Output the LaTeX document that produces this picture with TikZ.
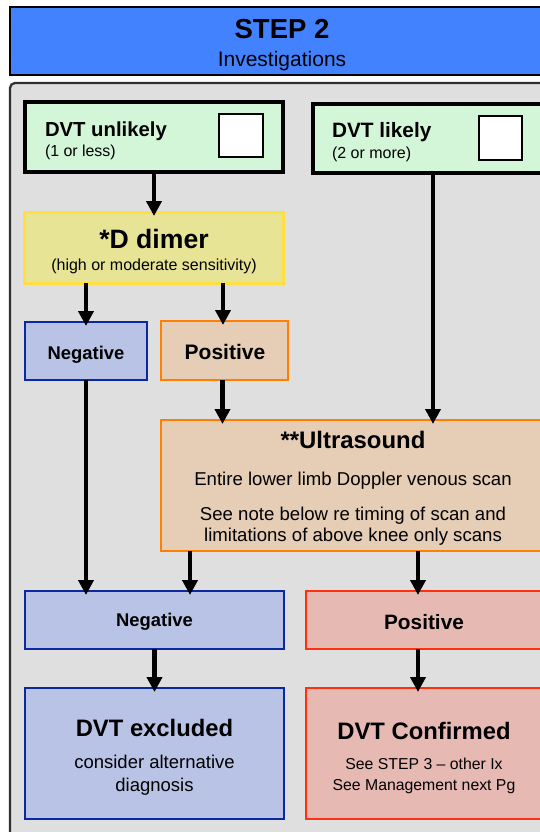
\documentclass[tikz,border=0pt]{standalone}
\usepackage{fontspec}
\setmainfont{Liberation Sans}
\usetikzlibrary{arrows.meta,fit}
\definecolor{hdrfill}{HTML}{4282FF}
\definecolor{panelfill}{HTML}{DFDFDF}
\definecolor{paneldraw}{HTML}{303030}
\definecolor{greenfill}{HTML}{D4F6D8}
\definecolor{yelfill}{HTML}{E8E496}
\definecolor{yeldraw}{HTML}{FFE040}
\definecolor{bluefill}{HTML}{B8C3E5}
\definecolor{bluedraw}{HTML}{0A28A0}
\definecolor{orfill}{HTML}{E6CDB5}
\definecolor{ordraw}{HTML}{FF8000}
\definecolor{redfill}{HTML}{E6B9B3}
\definecolor{reddraw}{HTML}{FF3010}
\tikzset{
  box/.style={inner sep=0pt, outer sep=0pt, line width=2.5pt},
  txt/.style={inner sep=0pt, outer sep=0pt, anchor=base, align=center},
  flow/.style={line width=4.4pt, shorten >=-4pt, -{Triangle[length=15pt,width=15pt]}},
  fs/.style={font=\fontsize{#1}{#1}\selectfont},
  fsb/.style={font=\fontsize{#1}{#1}\selectfont\bfseries}
}
\begin{document}
\begin{tikzpicture}[x=1pt,y=-1pt]
\useasboundingbox (0,0) rectangle (540,832);
\clip (0,0) rectangle (540,832);
% header
\node[box, fill=hdrfill, draw=black, fit={(10,7) (570,75)}] (hdr) {};
\node[txt, fsb=27.5] (hdrt) at (282,39) {STEP 2};
\node[txt, fs=21] (hdrs) at (282,66.5) {Investigations};
% panel
\node[box, line width=2.2pt, fill=panelfill, draw=paneldraw, rounded corners=5pt, fit={(10,83) (570,860)}] (panel) {};
% DVT unlikely
\node[box, line width=3.5pt, fill=greenfill, draw=black, fit={(25,102) (283,172)}] (unl) {};
\node[box, line width=2pt, fill=white, draw=black, fit={(219,114) (263,157)}] (cb1) {};
\node[txt, anchor=base west, fsb=20.3] (unlt) at (45,136) {DVT unlikely};
\node[txt, anchor=base west, fs=15.9] (unls) at (45,156.5) {(1 or less)};
% DVT likely
\node[box, line width=3.5pt, fill=greenfill, draw=black, fit={(313,104) (553,173)}] (lik) {};
\node[box, line width=2pt, fill=white, draw=black, fit={(479,116) (522,160)}] (cb2) {};
\node[txt, anchor=base west, fsb=20.8] (likt) at (332,137) {DVT likely};
\node[txt, anchor=base west, fs=16] (liks) at (332,158) {(2 or more)};
% D dimer
\node[box, line width=3pt, fill=yelfill, draw=yeldraw, fit={(24,212) (283,283)}] (dim) {};
\node[txt, fsb=26.6] (dimt) at (154,248) {*D dimer};
\node[txt, fs=16] (dims) at (154,270) {(high or moderate sensitivity)};
% first negative / positive
\node[box, fill=bluefill, draw=bluedraw, fit={(25,322) (147,380)}] (neg1) {};
\node[txt, fsb=18.4] (neg1t) at (86,359) {Negative};
\node[box, fill=orfill, draw=ordraw, fit={(161,321) (288,380)}] (pos1) {};
\node[txt, fsb=21] (pos1t) at (225,359) {Positive};
% ultrasound
\node[box, fill=orfill, draw=ordraw, fit={(161,420) (545,551)}] (us) {};
\node[txt, fsb=23.9] (ust) at (353,448) {**Ultrasound};
\node[txt, fs=18.6] (us1) at (353,485.7) {Entire lower limb Doppler venous scan};
\node[txt, fs=18.6] (us2) at (353,520.7) {See note below re timing of scan and};
\node[txt, fs=18.6] (us3) at (353,541.3) {limitations of above knee only scans};
% second negative / positive
\node[box, fill=bluefill, draw=bluedraw, fit={(25,591) (284,649)}] (neg2) {};
\node[txt, fsb=18.4] (neg2t) at (154.5,626.7) {Negative};
\node[box, fill=redfill, draw=reddraw, fit={(306,591) (570,649)}] (pos2) {};
\node[txt, fsb=20.8] (pos2t) at (424,629) {Positive};
% results
\node[box, fill=bluefill, draw=bluedraw, fit={(25,688) (284,819)}] (exc) {};
\node[txt, fsb=23.8] (exct) at (154.5,736.7) {DVT excluded};
\node[txt, fs=18.5] (exc1) at (154.5,768.3) {consider alternative};
\node[txt, fs=18.5] (exc2) at (154.5,791) {diagnosis};
\node[box, fill=redfill, draw=reddraw, fit={(306,688) (570,819)}] (conf) {};
\node[txt, fsb=23.8] (conft) at (424,739.3) {DVT Confirmed};
\node[txt, fs=15.8] (conf1) at (424,769.3) {See STEP 3 -- other Ix};
\node[txt, fs=15.8] (conf2) at (424,790.7) {See Management next Pg};
% connectors
\draw[flow] (unl.south) -- (unl.south |- dim.north);
\draw[flow] (neg1.north |- dim.south) -- (neg1.north);
\draw[flow] ([xshift=-1.5pt]pos1.north |- dim.south) -- ([xshift=-1.5pt]pos1.north);
\draw[flow] ([xshift=-2pt]pos1.south) -- ([xshift=-2pt]pos1.south |- us.north);
\draw[flow] (lik.south) -- (lik.south |- us.north);
\draw[flow] (neg1.south) -- (neg1.south |- neg2.north);
\draw[flow] ([xshift=29pt]us.south west) -- ([xshift=29pt]us.south west |- neg2.north);
\draw[flow] ([xshift=257pt]us.south west) -- ([xshift=257pt]us.south west |- pos2.north);
\draw[flow] (neg2.south) -- (neg2.south |- exc.north);
\draw[flow] ([xshift=257pt]us.south west |- pos2.south) -- ([xshift=257pt]us.south west |- conf.north);
\end{tikzpicture}
\end{document}
